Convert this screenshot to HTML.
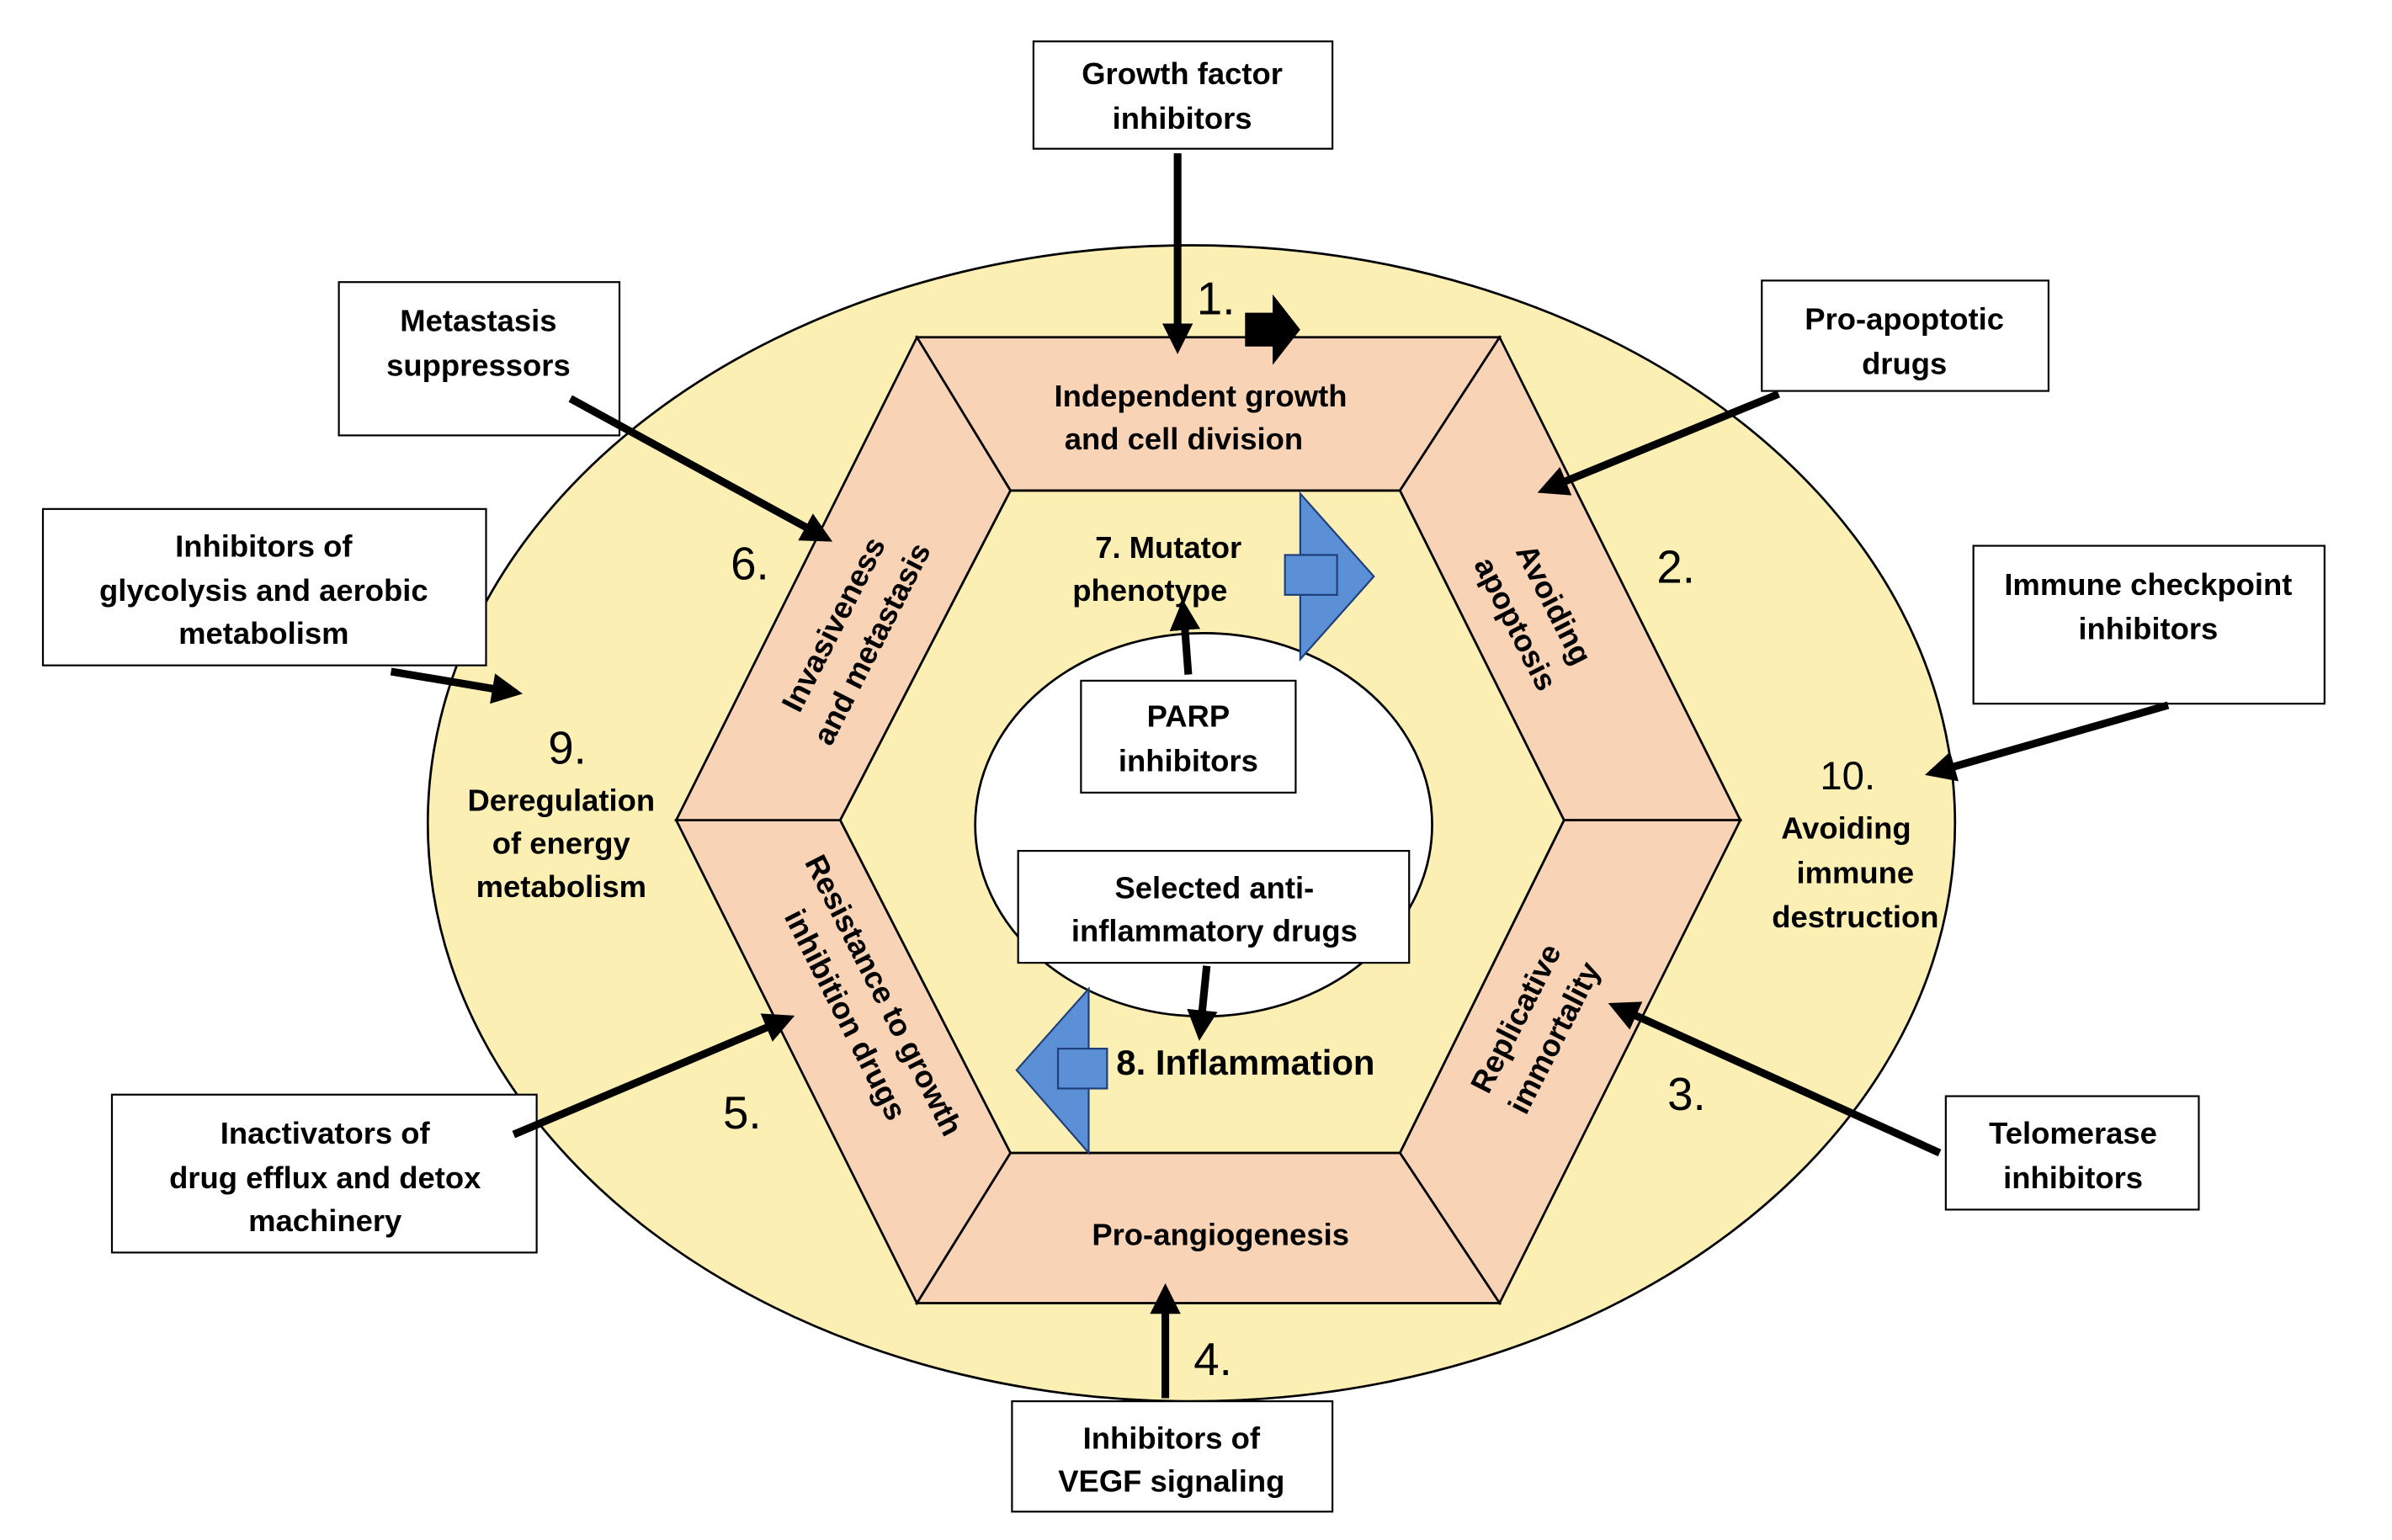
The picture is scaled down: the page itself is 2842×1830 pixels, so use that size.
<!DOCTYPE html>
<html><head><meta charset="utf-8"><style>
html,body{margin:0;padding:0;background:#fff;}
svg{display:block;}
text{font-family:"Liberation Sans",Arial,sans-serif;fill:#000;}
.b{font-weight:bold;font-size:20px;}
.n{font-size:30px;}
</style></head><body>
<svg width="2842" height="1830" viewBox="0 0 1560 1004.5" xmlns="http://www.w3.org/2000/svg">
<defs>
<marker id="ah" markerWidth="4" markerHeight="4" refX="2.2" refY="2" orient="auto" markerUnits="strokeWidth">
<path d="M0,0 L4,2 L0,4 z" fill="#000"/></marker>
</defs>
<ellipse cx="777" cy="537" rx="498" ry="377" fill="#fcefb4" stroke="#000" stroke-width="1.5"/>
<g fill="#f9d3b5" stroke="#000" stroke-width="1.5">
<polygon points="598,220 978,220 913,320 659,320"/>
<polygon points="978,220 1135,535 1020,535 913,320"/>
<polygon points="1135,535 978,850 913,752 1020,535"/>
<polygon points="978,850 598,850 659,752 913,752"/>
<polygon points="598,850 441,535 548,535 659,752"/>
<polygon points="441,535 598,220 659,320 548,535"/>
</g>
<polygon points="659,320 913,320 1020,535 913,752 659,752 548,535" fill="#fcefb4" stroke="#000" stroke-width="1.5"/>
<ellipse cx="785" cy="538" rx="149" ry="125" fill="#fff" stroke="#000" stroke-width="1.5"/>
<g fill="#5b8fd6" stroke="#1f3f7a" stroke-width="1.2">
<polygon points="848,322 896,376 848,430"/>
<rect x="838" y="362" width="34" height="26"/>
<polygon points="710,645 663,698 710,752"/>
<rect x="690" y="684" width="32" height="26"/>
</g>
<polygon points="812,204 830,204 830,192 848,215 830,238 830,226 812,226" fill="#000"/>
<g fill="#fff" stroke="#000" stroke-width="1.2">
<rect x="674" y="27" width="195" height="70"/>
<rect x="221" y="184" width="183" height="100"/>
<rect x="1149" y="183" width="187" height="72"/>
<rect x="28" y="332" width="289" height="102"/>
<rect x="1287" y="356" width="229" height="103"/>
<rect x="705" y="444" width="140" height="73"/>
<rect x="664" y="555" width="255" height="73"/>
<rect x="73" y="714" width="277" height="103"/>
<rect x="1269" y="715" width="165" height="74"/>
<rect x="660" y="914" width="209" height="72"/>
</g>
<g stroke="#000" stroke-width="5" marker-end="url(#ah)">
<line x1="768" y1="100" x2="768" y2="222"/>
<line x1="372" y1="260" x2="535" y2="349"/>
<line x1="1160" y1="257" x2="1011" y2="318"/>
<line x1="255" y1="438" x2="332" y2="451"/>
<line x1="1414" y1="460" x2="1264" y2="503"/>
<line x1="775" y1="440" x2="772" y2="400"/>
<line x1="787" y1="630" x2="783" y2="670"/>
<line x1="335" y1="740" x2="510" y2="666"/>
<line x1="1265" y1="752" x2="1057" y2="658"/>
<line x1="760" y1="912" x2="760" y2="846"/>
</g>
<g class="b" text-anchor="middle">
<text x="771" y="55">Growth factor</text><text x="771" y="84">inhibitors</text>
<text x="312" y="216">Metastasis</text><text x="312" y="245">suppressors</text>
<text x="1242" y="215">Pro-apoptotic</text><text x="1242" y="244">drugs</text>
<text x="172" y="363">Inhibitors of</text><text x="172" y="392">glycolysis and aerobic</text><text x="172" y="420">metabolism</text>
<text x="1401" y="388">Immune checkpoint</text><text x="1401" y="417">inhibitors</text>
<text x="775" y="474">PARP</text><text x="775" y="503">inhibitors</text>
<text x="792" y="586">Selected anti-</text><text x="792" y="614">inflammatory drugs</text>
<text x="212" y="746">Inactivators of</text><text x="212" y="775">drug efflux and detox</text><text x="212" y="803">machinery</text>
<text x="1352" y="746">Telomerase</text><text x="1352" y="775">inhibitors</text>
<text x="764" y="945">Inhibitors of</text><text x="764" y="973">VEGF signaling</text>
<text x="783" y="265">Independent growth</text><text x="772" y="293">and cell division</text>
<text x="796" y="812">Pro-angiogenesis</text>
<text x="762" y="364">7. Mutator</text><text x="750" y="392">phenotype</text>
<text x="366" y="529">Deregulation</text><text x="366" y="557">of energy</text><text x="366" y="585">metabolism</text>
<text x="1204" y="547">Avoiding</text><text x="1210" y="576">immune</text><text x="1210" y="605">destruction</text>
</g>
<text class="b" x="728" y="701" style="font-size:23px">8. Inflammation</text>
<g class="b" text-anchor="middle">
<g transform="translate(555,413) rotate(-63)"><text x="0" y="-6">Invasiveness</text><text x="0" y="22">and metastasis</text></g>
<g transform="translate(1002,400) rotate(63)"><text x="0" y="-6">Avoiding</text><text x="0" y="22">apoptosis</text></g>
<g transform="translate(1000,670) rotate(-63)"><text x="0" y="-6">Replicative</text><text x="0" y="22">immortality</text></g>
<g transform="translate(565,655) rotate(63)"><text x="0" y="-6">Resistance to growth</text><text x="0" y="22">inhibition drugs</text></g>
</g>
<g class="n" text-anchor="middle">
<text x="793" y="205">1.</text>
<text x="1093" y="380">2.</text>
<text x="1100" y="724">3.</text>
<text x="791" y="897">4.</text>
<text x="484" y="736">5.</text>
<text x="489" y="378">6.</text>
<text x="370" y="498">9.</text>
<text x="1205" y="515" style="font-size:26px">10.</text>
</g>
</svg>
</body></html>
